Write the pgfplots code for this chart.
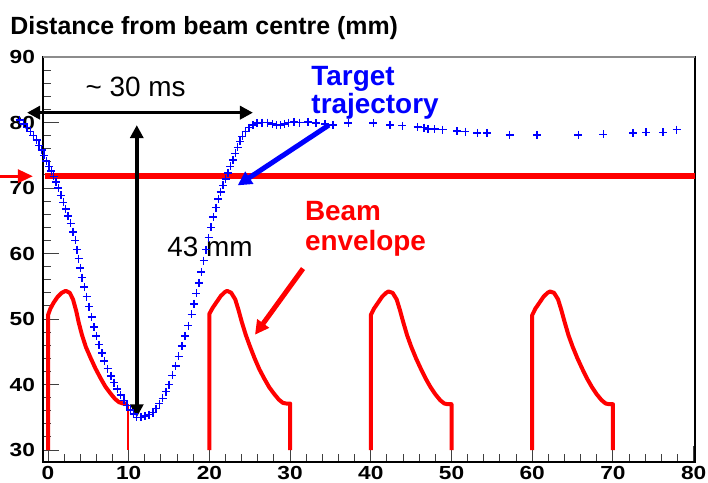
\documentclass[border=0pt]{standalone}
\usepackage{fontspec}
\setmainfont{Liberation Sans}
\newfontfamily\tickfont{Liberation Sans}[FakeStretch=1.2]
\usepackage{pgfplots}
\pgfplotsset{compat=1.18}
\usetikzlibrary{arrows.meta}

\definecolor{rootblue}{RGB}{0,0,255}
\definecolor{rootred}{RGB}{255,0,0}

\begin{document}
\begin{tikzpicture}
\begin{axis}[
  scale only axis,
  width=326bp, height=202.5bp,
  xmin=-0.62, xmax=80.17,
  ymin=28.17, ymax=90,
  clip=false,
  axis line style={line width=0.6bp},
  xtick={0,10,...,80},
  ytick={30,40,...,90},
  minor x tick num=4,
  minor y tick num=4,
  xtick pos=bottom, ytick pos=left,
  tick align=inside,
  major tick length=8bp,
  minor tick length=4bp,
  tick style={line width=0.5bp, black!75},
  tick label style={font=\tickfont\bfseries\fontsize{9.5}{10}\selectfont},
  /pgf/number format/assume math mode=true,
  yticklabel style={xshift=-0.5bp},
  xticklabel style={yshift=1.2bp},
]
\coordinate (sw) at (rel axis cs:0,0);
\coordinate (ne) at (rel axis cs:1,1);
\coordinate (nw) at (rel axis cs:0,1);

% beam envelope, one pulse every 20 ms
\addplot[rootred, line width=2bp, line join=round] coordinates {
  (0,30) (0,50.6) (0.3,51.6) (0.7,52.5) (1.2,53.4) (1.7,54.0) (2.2,54.3)
  (2.7,54.0) (3.1,53.0) (3.5,51.2) (3.8,49.5) (4.2,47.6) (4.7,45.7)
  (5.3,44.0) (5.9,42.4) (6.5,41.0) (7.1,39.7) (7.7,38.7) (8.3,37.8)
  (8.8,37.3) (9.3,37.1) (9.9,37.1)
};
\addplot[rootred, line width=1.1bp] coordinates {(9.9,37.1) (9.9,30)};
\addplot[rootred, line width=2bp, line join=round] coordinates {
  (20,30) (20,50.8) (20.4,51.7) (20.9,52.6) (21.4,53.5) (21.9,54.1) (22.2,54.3)
  (22.7,54.0) (23.2,53.0) (23.6,51.4) (24.0,49.6) (24.5,47.6) (25.0,45.9)
  (25.6,44.0) (26.2,42.3) (26.8,40.9) (27.4,39.6) (28.0,38.6) (28.6,37.7)
  (29.1,37.2) (29.5,37.1) (30,37.1) (30,30)
};
\addplot[rootred, line width=2bp, line join=round] coordinates {
  (40,30) (40,50.6) (40.4,51.6) (40.9,52.5) (41.4,53.4) (41.9,54.0) (42.2,54.2)
  (42.7,54.0) (43.2,53.0) (43.6,51.4) (44.0,49.6) (44.5,47.5) (45.0,45.8)
  (45.6,44.0) (46.2,42.4) (46.8,40.9) (47.4,39.6) (48.0,38.5) (48.6,37.6)
  (49.1,37.1) (49.5,37.0) (50,37.0) (50,30)
};
\addplot[rootred, line width=2bp, line join=round] coordinates {
  (60,30) (60,50.6) (60.4,51.6) (60.9,52.5) (61.4,53.4) (61.9,54.0) (62.2,54.2)
  (62.7,54.0) (63.2,53.0) (63.6,51.4) (64.0,49.6) (64.5,47.5) (65.0,45.8)
  (65.6,44.0) (66.2,42.4) (66.8,40.9) (67.4,39.6) (68.0,38.5) (68.6,37.6)
  (69.1,37.1) (69.5,37.0) (70,37.0) (70,30)
};

% target trajectory
\addplot[only marks, mark=+, rootblue, mark size=2bp,
  mark options={line width=0.7bp}] coordinates {
  (-3.5,80.4) (-3.0,79.8) (-2.6,79.2) (-2.2,78.6) (-1.8,78.0) (-1.4,77.3)
  (-1.1,76.5) (-0.8,75.8) (-0.5,75.0) (-0.2,74.1) (0.1,73.3) (0.4,72.6)
  (0.7,71.8) (1.0,70.9) (1.3,70.0) (1.6,68.9) (1.9,67.8) (2.2,66.8)
  (2.5,65.7) (2.8,64.6) (3.1,63.3) (3.4,62.0) (3.6,60.6) (3.8,59.2)
  (4.0,57.8) (4.2,56.3) (4.5,54.9) (4.8,53.4) (5.1,51.9) (5.4,50.3)
  (5.7,48.8) (6.0,47.4) (6.3,46.1) (6.7,44.8) (7.0,43.6) (7.4,42.4)
  (7.8,41.3) (8.2,40.3) (8.6,39.3) (9.0,38.4) (9.4,37.6) (9.8,36.8)
  (10.2,36.1) (10.6,35.5) (11.0,35.0) (11.5,35.0) (12.0,35.2) (12.5,35.4)
  (13.0,35.7) (13.4,36.3) (13.8,37.1) (14.2,37.9) (14.6,38.9) (15.0,40.0)
  (15.4,41.4) (15.8,42.8) (16.2,44.3) (16.6,45.9) (17.0,47.4) (17.4,49.0)
  (17.8,50.7) (18.1,52.3) (18.4,53.9) (18.7,55.5) (19.0,57.2) (19.3,58.9)
  (19.6,60.6) (19.9,62.4) (20.2,64.0) (20.5,65.6) (20.8,67.0) (21.1,68.3)
  (21.4,69.4) (21.7,70.4) (22.0,71.4) (22.3,72.3) (22.6,73.3) (22.9,74.3)
  (23.2,75.3) (23.5,76.2) (23.8,77.1) (24.1,77.9) (24.5,78.6) (24.9,79.2)
  (25.4,79.6) (25.9,79.9) (26.5,80.0) (27.2,80.0) (27.8,79.8) (28.3,79.6)
  (28.8,79.6) (29.3,79.8) (29.8,80.0) (30.5,80.1) (31.2,80.0) (32.2,80.1)
  (33.2,79.9) (34.3,79.8) (35.3,79.6) (37.2,79.9) (40.3,79.9) (42.4,79.6)
  (43.9,79.5) (45.8,79.3) (46.6,79.2) (47.1,79.0) (47.9,79.0) (48.9,78.9)
  (50.7,78.7) (51.7,78.6) (53.2,78.4) (54.4,78.4) (57.2,78.1) (60.6,78.1)
  (65.7,78.1) (68.8,78.2) (72.5,78.4) (74.1,78.5) (76.2,78.5) (77.9,78.9)
};

% beam centre line with its marker arrow outside the frame
\draw[rootred, line width=3bp] (axis cs:-0.4,71.8) -- (axis cs:80.17,71.8);
\draw[rootred, line width=1.6bp, -{Triangle[length=7.5bp,width=6.5bp]}]
  (axis cs:-5.95,71.8) -- (axis cs:-1.86,71.8);

% annotations
\draw[black, line width=1.75bp, {Triangle[length=6.5bp,width=6.5bp]}-{Triangle[length=6.5bp,width=6.5bp]}]
  (axis cs:-2.6,81.5) -- (axis cs:25.4,81.5);
\draw[black, line width=1.75bp, {Triangle[length=6.5bp,width=6.5bp]}-{Triangle[length=6.5bp,width=6.5bp]}]
  (axis cs:11,79.6) -- (axis cs:11,35.0);
\draw[rootblue, line width=2.5bp, -{Triangle[length=7bp,width=7bp]}]
  (axis cs:34.8,79.6) -- (axis cs:23.5,70.4);
\draw[rootred, line width=2.5bp, -{Triangle[length=7bp,width=7bp]}]
  (axis cs:31.6,57.7) -- (axis cs:25.65,47.6);

\node[anchor=base west, inner sep=0, font=\fontsize{14}{16}\selectfont]
  at (axis cs:4.6,83.9) {\textasciitilde{} 30 ms};
\node[anchor=base west, inner sep=0, font=\fontsize{14}{16}\selectfont]
  at (axis cs:14.75,59.5) {43 mm};
\node[anchor=base west, inner sep=0, text=rootblue, font=\bfseries\fontsize{14}{16}\selectfont]
  at (axis cs:32.6,85.7) {Target};
\node[anchor=base west, inner sep=0, text=rootblue, font=\bfseries\fontsize{14}{16}\selectfont]
  at (axis cs:32.6,81.3) {trajectory};
\node[anchor=base west, inner sep=0, text=rootred, font=\bfseries\fontsize{14}{16}\selectfont]
  at (axis cs:31.8,65.1) {Beam};
\node[anchor=base west, inner sep=0, text=rootred, font=\bfseries\fontsize{14}{16}\selectfont]
  at (axis cs:31.8,60.5) {envelope};
\node[anchor=base west, inner sep=0, font=\bfseries\fontsize{12.5}{15}\selectfont]
  at (axis cs:-4.7,93.4) {Distance from beam centre (mm)};
\end{axis}
% grey top edge of the frame, as in the original
\draw[black!45, line width=0.6bp] (nw) -- (ne);
\pgfresetboundingbox
\path ([shift={(-21.5bp,-10.5bp)}]sw) rectangle ([shift={(6.5bp,28.5bp)}]ne);
\end{tikzpicture}
\end{document}
